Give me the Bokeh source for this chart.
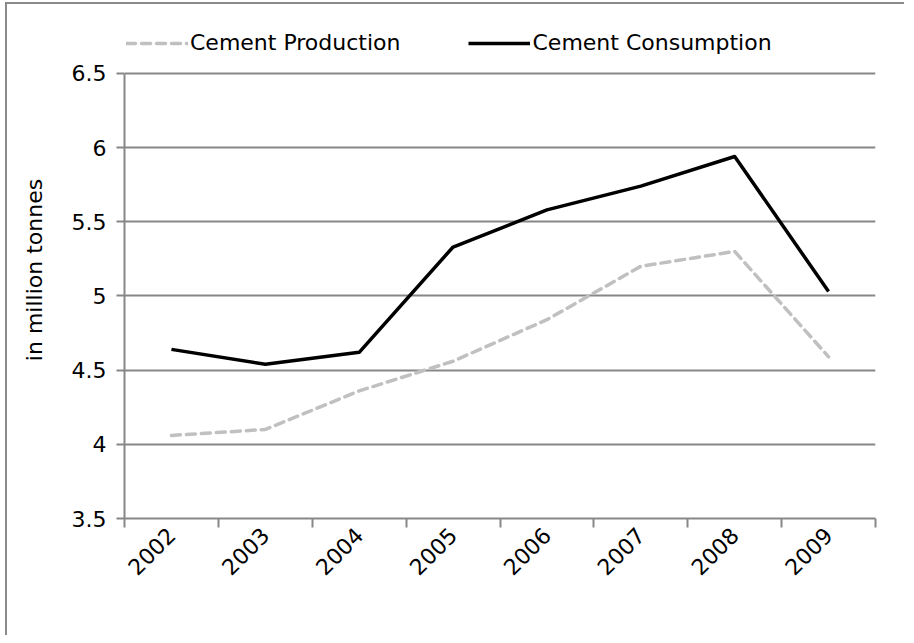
import math
from bokeh.plotting import figure
from bokeh.models import FixedTicker, Range1d, Legend, LegendItem
from bokeh.embed import file_html
from bokeh.resources import INLINE

years = ["2002", "2003", "2004", "2005", "2006", "2007", "2008", "2009"]
production = [4.06, 4.10, 4.36, 4.56, 4.84, 5.20, 5.30, 4.59]
consumption = [4.64, 4.54, 4.62, 5.33, 5.58, 5.74, 5.94, 5.03]
y_ticks = [3.5, 4, 4.5, 5, 5.5, 6, 6.5]
y_tick_labels = ["3.5", "4", "4.5", "5", "5.5", "6", "6.5"]
series_names = ["Cement Production", "Cement Consumption"]

FONT = "DejaVu Sans"
GRID = "#878787"
FS = "22px"

xs = [i + 0.5 for i in range(len(years))]

# frame extends above 6.5 to leave room for the legend inside it
p = figure(width=899, height=633, output_backend="svg", toolbar_location=None,
           x_range=Range1d(0, len(years)), y_range=Range1d(3.5, 6.85),
           min_border_left=117, min_border_right=31, min_border_top=17,
           min_border_bottom=119, outline_line_color=None)
p.styles = {"border-left": "2px solid #8a8a8a", "border-top": "2px solid #8a8a8a",
            "margin-left": "5px", "margin-top": "2px"}

l1 = p.line(xs, production, line_color="#c0c0c0", line_width=3.5, line_dash="9 6",
            line_cap="round", line_join="round")
l2 = p.line(xs, consumption, line_color="#000000", line_width=3.5, line_join="round")

# x axis: boundary ticks, centred labels
p.xaxis.ticker = FixedTicker(ticks=xs, minor_ticks=list(range(len(years) + 1)))
p.xaxis.major_label_overrides = {x: y for x, y in zip(xs, years)}
p.xaxis.major_tick_line_color = None
p.xaxis.minor_tick_line_color = GRID
p.xaxis.minor_tick_line_width = 2
p.xaxis.minor_tick_out = 9
p.xaxis.minor_tick_in = 0
p.xaxis.axis_line_color = GRID
p.xaxis.axis_line_width = 2
p.xaxis.major_label_orientation = math.pi / 4
p.xaxis.major_label_standoff = 4
p.xaxis.major_label_text_font = FONT
p.xaxis.major_label_text_font_size = FS
p.xaxis.major_label_text_color = "#000000"
p.xgrid.grid_line_color = None

# y axis
p.yaxis.ticker = FixedTicker(ticks=y_ticks, minor_ticks=[])
p.yaxis.bounds = (y_ticks[0], y_ticks[-1])
p.yaxis.major_label_overrides = {t: s for t, s in zip(y_ticks, y_tick_labels)}
p.yaxis.major_tick_line_color = GRID
p.yaxis.major_tick_line_width = 2
p.yaxis.major_tick_out = 8
p.yaxis.major_tick_in = 0
p.yaxis.axis_line_color = GRID
p.yaxis.axis_line_width = 2
p.yaxis.major_label_standoff = 10
p.yaxis.major_label_text_font = FONT
p.yaxis.major_label_text_font_size = FS
p.yaxis.major_label_text_color = "#000000"
p.yaxis.axis_label = "in million tonnes"
p.yaxis.axis_label_text_font = FONT
p.yaxis.axis_label_text_font_size = FS
p.yaxis.axis_label_text_font_style = "normal"
p.yaxis.axis_label_text_color = "#000000"
p.yaxis.axis_label_standoff = 22
p.ygrid.ticker = FixedTicker(ticks=y_ticks)
p.ygrid.grid_line_color = GRID
p.ygrid.grid_line_width = 2

legend = Legend(items=[LegendItem(label=series_names[0], renderers=[l1]),
                       LegendItem(label=series_names[1], renderers=[l2])],
                orientation="horizontal", location=(2, 463),
                label_text_font=FONT, label_text_font_size=FS,
                label_text_color="#000000",
                glyph_width=62, label_standoff=2, spacing=68,
                border_line_color=None, background_fill_alpha=0,
                padding=0, margin=0)
p.add_layout(legend)

open("out.html", "w").write(file_html(p, INLINE))
